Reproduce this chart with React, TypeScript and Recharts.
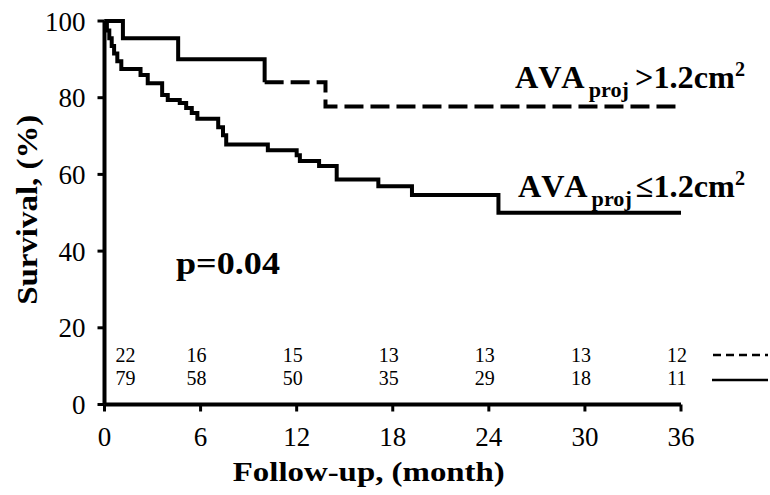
import React from 'react';
import { LineChart, Line, XAxis, YAxis, ReferenceDot } from 'recharts';

// Kaplan-Meier curves (month, survival %)
const upperSolidMonths = [0, 1.15, 4.6, 10.0];
const upperSolidSurv = [100, 95.5, 90.0, 84.0];
const upperDashMonths = [10.0, 13.8, 36];
const upperDashSurv = [84.0, 77.7, 77.7];

const lowerMonths = [0, 0.15, 0.3, 0.45, 0.6, 0.8, 1.05, 2.25, 2.7, 3.6, 3.95, 4.7, 5.1, 5.45, 5.8, 7.1, 7.4, 7.6, 10.2, 12.0, 12.2, 13.4, 14.5, 17.1, 19.2, 24.6, 36];
const lowerSurv = [100, 97.5, 95.5, 93.5, 91.5, 89.5, 87.5, 85.9, 83.8, 80.7, 79.4, 78.6, 77.3, 76.0, 74.5, 72.3, 70.2, 67.8, 66.3, 65.0, 63.5, 62.2, 58.7, 56.9, 54.6, 50.0, 50.0];

// numbers at risk
const riskTimes = [0, 6, 12, 18, 24, 30, 36];
const riskUpper = [22, 16, 15, 13, 13, 13, 12];
const riskLower = [79, 58, 50, 35, 29, 18, 11];

const xTicks = [0, 6, 12, 18, 24, 30, 36];
const yTicks = [0, 20, 40, 60, 80, 100];

const toRows = (ms: number[], ss: number[]) => ms.map((m, i) => ({ m, s: ss[i] }));
const upperSolid = toRows(upperSolidMonths, upperSolidSurv);
const upperDash = toRows(upperDashMonths, upperDashSurv);
const lower = toRows(lowerMonths, lowerSurv);

const FONT = '"Liberation Serif", "Times New Roman", serif';

const XTitle = (props: any) => {
  const vb = props.viewBox || {};
  return (
    <text x={vb.x + vb.width / 2 - 24} y={vb.y + 76} textAnchor="middle" fontFamily={FONT}
      fontWeight="bold" fontSize={28} fill="#000" textLength={272} lengthAdjust="spacingAndGlyphs">
      Follow-up, (month)
    </text>
  );
};

const YTitle = (props: any) => {
  const vb = props.viewBox || {};
  const cx = 37;
  const cy = vb.y + vb.height / 2 - 3;
  return (
    <text x={cx} y={cy} transform={`rotate(-90 ${cx} ${cy})`} textAnchor="middle" fontFamily={FONT}
      fontWeight="bold" fontSize={29} fill="#000" textLength={190} lengthAdjust="spacingAndGlyphs">
      Survival, (%)
    </text>
  );
};

const App = () => {
  return (
    <div style={{ position: 'absolute', left: 0, top: 0, width: 770, height: 495, background: '#fff' }}>
      <LineChart width={770} height={495} data={lower} margin={{ top: 21, right: 89, bottom: 0, left: 10 }}>
        <XAxis type="number" dataKey="m" domain={[0, 36]} ticks={xTicks} height={90.5}
          axisLine={{ stroke: '#000', strokeWidth: 4 }} tickLine={{ stroke: '#000', strokeWidth: 3 }}
          tickSize={7} tickMargin={15}
          tick={{ fill: '#000', fontSize: 27, fontFamily: FONT }}
          label={{ content: XTitle }} />
        <YAxis type="number" domain={[0, 100]} ticks={yTicks} width={94.5}
          axisLine={{ stroke: '#000', strokeWidth: 4 }} tickLine={{ stroke: '#000', strokeWidth: 3 }}
          tickSize={7} tickMargin={12}
          tick={{ fill: '#000', fontSize: 27, fontFamily: FONT }}
          label={{ content: YTitle }} />
        <Line data={lower} dataKey="s" type="stepAfter" stroke="#000" strokeWidth={4}
          dot={false} activeDot={false} isAnimationActive={false} />
        <Line data={upperSolid} dataKey="s" type="stepAfter" stroke="#000" strokeWidth={4}
          dot={false} activeDot={false} isAnimationActive={false} />
        <Line data={upperDash} dataKey="s" type="stepAfter" stroke="#000" strokeWidth={4}
          strokeDasharray="19 7" dot={false} activeDot={false} isAnimationActive={false} />
        {riskTimes.map((t, i) => (
          <ReferenceDot key={`u${t}`} x={t} y={12.9} r={0} fill="none" stroke="none"
            label={{ value: riskUpper[i], position: 'center', dx: i === 0 ? 21 : -4, fill: '#000', fontSize: 20, fontFamily: FONT }} />
        ))}
        {riskTimes.map((t, i) => (
          <ReferenceDot key={`l${t}`} x={t} y={6.9} r={0} fill="none" stroke="none"
            label={{ value: riskLower[i], position: 'center', dx: i === 0 ? 21 : -4, fill: '#000', fontSize: 20, fontFamily: FONT }} />
        ))}
      </LineChart>
      <svg width={770} height={495} style={{ position: 'absolute', left: 0, top: 0, pointerEvents: 'none' }}>
        <g fontFamily={FONT} fontWeight="bold" fill="#000">
          <text x={515} y={88} fontSize={32} textLength={230} lengthAdjust="spacingAndGlyphs">
            <tspan letterSpacing={4}>AVA</tspan>
            <tspan fontSize={22} dy={9}>proj</tspan>
            <tspan dx={6} dy={-9}>&gt;1.2cm</tspan>
            <tspan fontSize={20} dy={-12}>2</tspan>
          </text>
          <text x={518} y={197} fontSize={32} textLength={227} lengthAdjust="spacingAndGlyphs">
            <tspan letterSpacing={4}>AVA</tspan>
            <tspan fontSize={22} dy={9}>proj</tspan>
            <tspan dx={4} dy={-9}>≤1.2cm</tspan>
            <tspan fontSize={20} dy={-12}>2</tspan>
          </text>
          <text x={176} y={274} fontSize={31} textLength={104} lengthAdjust="spacingAndGlyphs">p=0.04</text>
        </g>
        <line x1={713} y1={355} x2={768} y2={355} stroke="#000" strokeWidth={2.5} strokeDasharray="8 5" />
        <line x1={712} y1={380} x2={768} y2={380} stroke="#000" strokeWidth={2.5} />
      </svg>
    </div>
  );
};

export default App;
